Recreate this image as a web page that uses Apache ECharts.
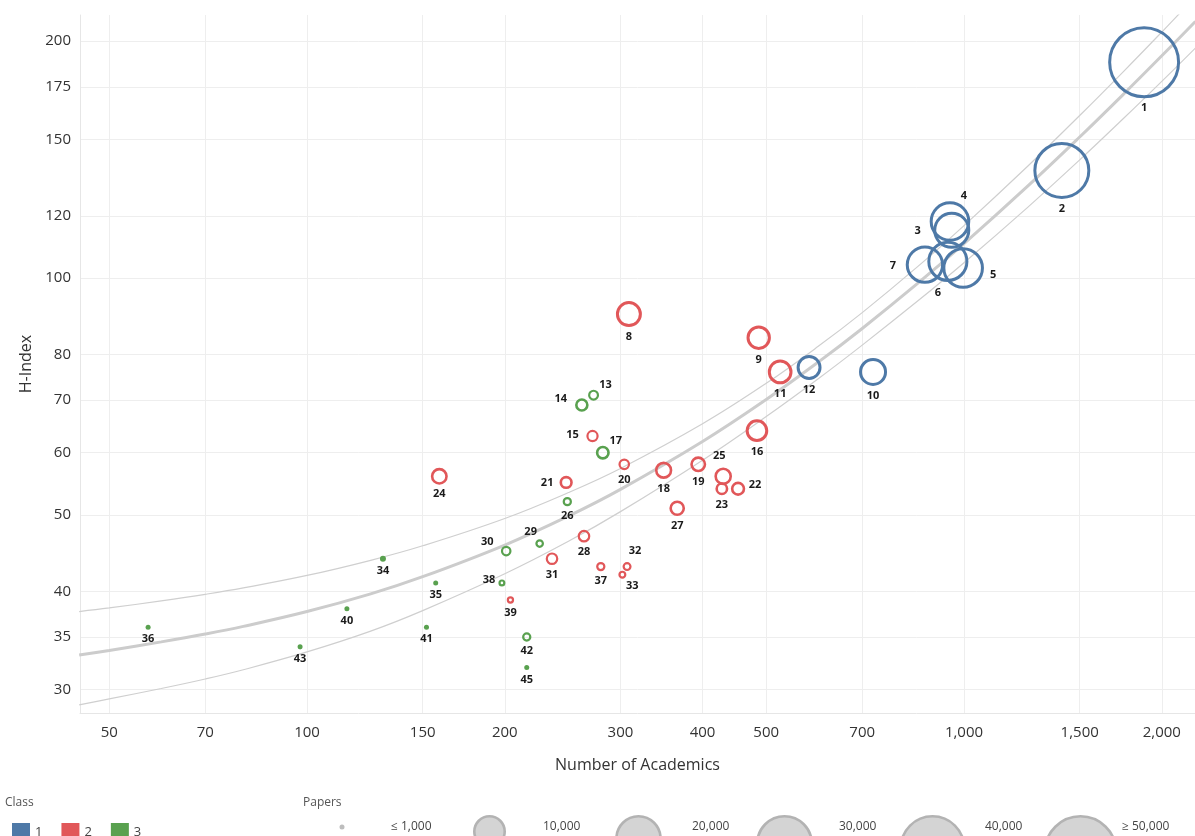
<!DOCTYPE html>
<html><head><meta charset="utf-8">
<script src="https://cdn.jsdelivr.net/npm/echarts@6/dist/echarts.min.js"></script>
<style>html,body{margin:0;padding:0;background:#fff}#c{width:1195px;height:836px}</style>
</head><body><div id="c"></div>
<script>
// ---- data ----
const ids       = [1,2,3,4,5,6,7,8,9,10,11,12,13,14,15,16,17,18,19,20,21,22,23,24,25,26,27,28,29,30,31,32,33,34,35,36,37,38,39,40,41,42,43,45];
const classes   = [1,1,1,1,1,1,1,2,2,1,2,1,3,3,2,2,3,2,2,2,2,2,2,2,2,3,2,2,3,3,2,2,2,3,3,3,2,3,2,3,3,3,3,3];
const academics = [1880,1409,958,952,997,945,872,309,487,727,525,581,273,262,272,484,282,349,394,304,248,453,428,159,430,249,366,264,226,201,236,307,302,130.5,157,57.3,280,198,204,115,152,216,97.6,216];
const hIndex    = [188,137,115,118,103,105,104,90,84,76,76,77,71,69,63,64,60,57,58,58,55,54,54,56,56,52,51,47,46,45,44,43,42,44,41,36,43,41,39,38,36,35,34,32];
const papers    = [47500,29800,12600,15100,15900,15500,13500,6200,5450,7200,5600,5700,1110,1700,1400,4700,1800,2780,2350,1250,1630,1900,1550,2650,2870,800,2260,1470,690,1040,1470,750,590,330,230,230,800,450,500,230,230,800,230,230];

const xTicks = [50,70,100,150,200,300,400,500,700,1000,1500,2000];
const yTicks = [30,35,40,50,60,70,80,100,120,150,175,200];

// trend line and its band
const trendX     = [45,50,60,70,80,100,125,150,200,250,300,400,500,600,700,850,1000,1250,1500,1750,2000,2250];
const trendMid   = [33.2,33.65,34.5,35.3,36.1,37.7,39.7,41.75,45.8,49.85,53.9,62.0,70.1,78.2,86.3,98.45,110.6,130.85,151.1,171.35,191.6,211.85];
const trendUpper = [37.7,38.1,38.9,39.65,40.4,41.9,43.8,45.7,49.5,53.4,57.3,65.3,73.5,81.9,90.4,103.4,116.6,138.7,160.9,183.1,205.4,227.7];
const trendLower = [28.7,29.2,30.1,30.95,31.8,33.5,35.6,37.8,42.1,46.3,50.5,58.7,66.7,74.5,82.2,93.5,104.6,123.0,141.3,159.6,177.8,196.0];

const classNames = ['1','2','3'];
const paperLegendValues = [1000,10000,20000,30000,40000,50000];
const paperLegendLabels = ['≤ 1,000','10,000','20,000','30,000','40,000','≥ 50,000'];

// ---- styles ----
const classColors = {1:'#4e79a7',2:'#e15759',3:'#59a14f'};
const labelOffsets = {3:[-34,1],4:[14,-26],5:[30,7],6:[-10,31],7:[-32,1],13:[12,-10],14:[-21,-6],15:[-20,-1],17:[13,-12],21:[-19,0],22:[17,-4],25:[-4,-20],29:[-9,-12],30:[-19,-9],32:[8,-16],33:[10,11],38:[-13,-3]};
const FONT = '"Open Sans", "Noto Sans", sans-serif';

function outerDiam(p){ return 0.33*Math.sqrt(p); }
function borderW(p){ return p>4000 ? 3 : (p>1500 ? 2.6 : 2.2); }

function buildSeries(cls){
  const data = [];
  ids.forEach((id,i)=>{
    if (classes[i]!==cls) return;
    const p = papers[i];
    const filled = p < 400;
    const item = {
      value:[academics[i], hIndex[i], p, id],
      symbolSize: filled ? outerDiam(p) : outerDiam(p)-borderW(p),
      itemStyle: filled ? {color:classColors[cls], borderWidth:0, opacity:1}
                        : {color:'rgba(255,255,255,0)', borderColor:classColors[cls], borderWidth:borderW(p), opacity:1}
    };
    const off = labelOffsets[id];
    item.label = off ? {position:'inside', offset:off} : {position:'bottom', distance:4};
    data.push(item);
  });
  return {
    name:String(cls), type:'scatter', data, z:5,
    itemStyle:{opacity:1},
    label:{show:true, formatter:(prm)=>String(prm.value[3]), color:'#1a1a1a', fontFamily:FONT, fontWeight:'bold', fontSize:11, opacity:1},
    emphasis:{disabled:true}
  };
}

function lineSeries(name, ys, width, color){
  return {name, type:'line', data: trendX.map((x,i)=>[x, ys[i]]), showSymbol:false, symbol:'none',
    smooth:0.4, lineStyle:{width, color}, z:2, silent:true, clip:true};
}

const chart = echarts.init(document.getElementById('c'), null, {renderer:'canvas'});

const graphics = [];
graphics.push({type:'text', left:5, top:797, style:{text:'Class', fill:'#555', font:'12px '+FONT}});
graphics.push({type:'text', left:303, top:797, style:{text:'Papers', fill:'#555', font:'12px '+FONT}});
const paperCx = [342,489.5,638.5,784.5,932.5,1080.5];
const paperLabelX = [391,543,692,839,985,1122];
paperLegendValues.forEach((v,i)=>{
  if (i===0){
    graphics.push({type:'circle', shape:{cx:paperCx[i], cy:827, r:2.5}, style:{fill:'#bdbdbd'}});
  } else {
    const r = outerDiam(v)/2;
    graphics.push({type:'circle', shape:{cx:paperCx[i], cy:815+r, r:r-1.3}, style:{fill:'#d4d4d4', stroke:'#b3b3b3', lineWidth:2.6}});
  }
  graphics.push({type:'text', x:paperLabelX[i], y:827, style:{text:paperLegendLabels[i], fill:'#444', font:'12px '+FONT, verticalAlign:'middle'}});
});

const option = {
  animation:false,
  backgroundColor:'#fff',
  grid:{left:80, right:0, top:15, bottom:123},
  legend:{
    left:7, top:818, icon:'rect', itemWidth:18, itemHeight:18, itemGap:19,
    textStyle:{color:'#444', fontFamily:FONT, fontSize:13},
    selectedMode:false,
    data: classNames.map(n=>({name:n, itemStyle:{color:classColors[+n], borderWidth:0, opacity:1}}))
  },
  xAxis:{
    type:'log', min:45.13, max:2247,
    name:'Number of Academics', nameLocation:'middle', nameGap:44,
    nameTextStyle:{color:'#333', fontFamily:FONT, fontSize:16},
    axisLine:{show:true, lineStyle:{color:'#e6e6e6', width:1}},
    axisTick:{show:false, customValues:xTicks},
    axisLabel:{customValues:xTicks, margin:12, color:'#333', fontFamily:FONT, fontSize:15,
      formatter:(v)=>Number(v).toLocaleString('en-US')},
    splitLine:{show:true, lineStyle:{color:'#eeeeee', width:1}}
  },
  yAxis:{
    type:'log', min:28.02, max:215.9,
    name:'H-Index', nameLocation:'middle', nameGap:44, nameRotate:90,
    nameTextStyle:{color:'#333', fontFamily:FONT, fontSize:16},
    axisLine:{show:true, lineStyle:{color:'#e6e6e6', width:1}},
    axisTick:{show:false, customValues:yTicks},
    axisLabel:{customValues:yTicks, margin:9, color:'#333', fontFamily:FONT, fontSize:15,
      formatter:(v)=>Number(v).toLocaleString('en-US')},
    splitLine:{show:true, lineStyle:{color:'#eeeeee', width:1}}
  },
  series:[
    lineSeries('upper', trendUpper, 1.2, '#cfcfcf'),
    lineSeries('lower', trendLower, 1.2, '#cfcfcf'),
    lineSeries('trend', trendMid, 3, '#cccccc'),
    buildSeries(1), buildSeries(2), buildSeries(3)
  ],
  graphic: graphics
};
chart.setOption(option);
</script></body></html>
